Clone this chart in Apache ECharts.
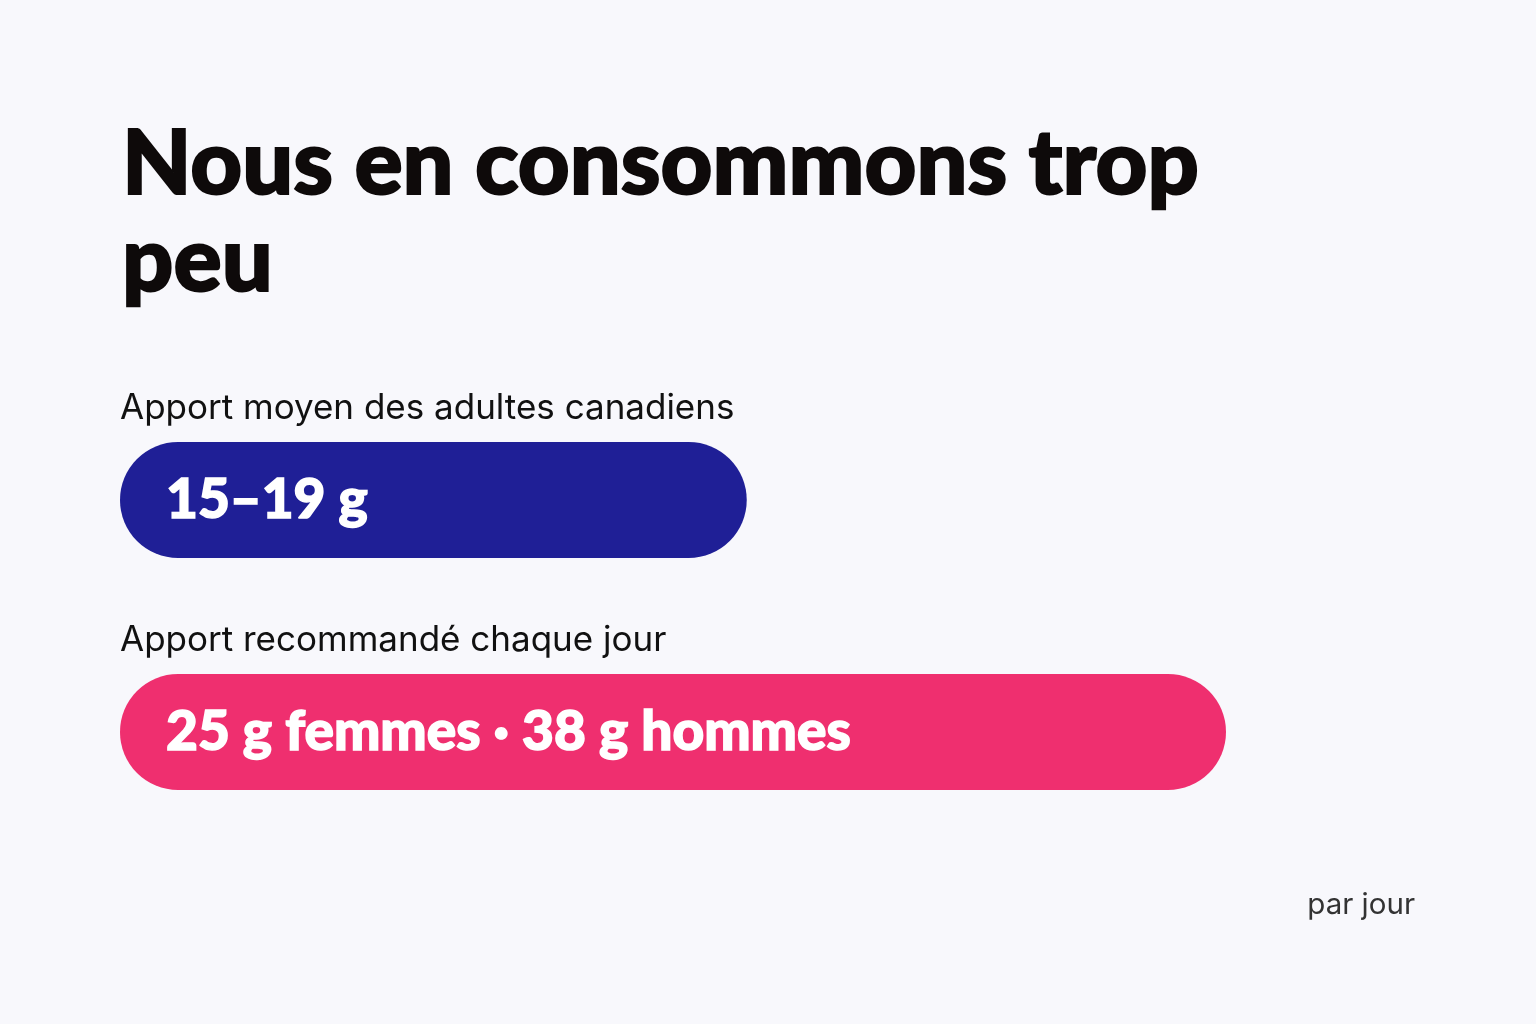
<!DOCTYPE html>
<html>
<head>
<meta charset="utf-8">
<script src="https://cdn.jsdelivr.net/npm/echarts@6/dist/echarts.min.js"></script>
<style>
html,body{margin:0;padding:0;background:#f8f8fc;}
#chart{width:1536px;height:1024px;}
</style>
</head>
<body>
<div id="chart"></div>
<script>
// Data
const titleLines = ['Nous en consommons trop', 'peu'];
const unitNote = 'par jour';
const categories = ['Apport moyen des adultes canadiens', 'Apport recommandé chaque jour'];
const barValues = [17, 30];
const valueLabels = ['15–19 g', '25 g femmes · 38 g hommes'];
const barColors = ['#1f1f96', '#ef2f6f'];
const axisMax = 30;

const chart = echarts.init(document.getElementById('chart'), null, {renderer: 'canvas'});
chart.setOption({
  backgroundColor: '#f8f8fc',
  animation: false,
  title: [{
    text: titleLines.join('\n'),
    left: 117,
    top: 111,
    textStyle: {
      fontFamily: 'Lato',
      fontWeight: 900,
      fontSize: 90,
      lineHeight: 97,
      color: '#0e0a0a',
      textBorderColor: '#0e0a0a',
      textBorderWidth: 2
    }
  }, {
    text: unitNote,
    right: 116,
    top: 885,
    textStyle: {
      fontFamily: 'Inter',
      fontWeight: 400,
      fontSize: 29.5,
      color: '#333333'
    }
  }],
  grid: {left: 120, right: 310, top: 384, bottom: 176, containLabel: false},
  xAxis: {
    type: 'value', min: 0, max: axisMax,
    show: false
  },
  yAxis: {
    type: 'category',
    data: categories,
    inverse: true,
    axisLine: {show: false},
    axisTick: {show: false},
    splitLine: {show: false},
    axisLabel: {show: false}
  },
  series: [{
    type: 'bar',
    data: barValues.map((v, i) => ({value: v, itemStyle: {color: barColors[i]}})),
    barWidth: 116,
    itemStyle: {borderRadius: 58},
    label: {
      show: true,
      position: 'insideLeft',
      distance: 46,
      formatter: p => valueLabels[p.dataIndex],
      fontFamily: 'Lato',
      fontWeight: 900,
      fontSize: 55,
      color: '#ffffff',
      textBorderColor: '#ffffff',
      textBorderWidth: 1.5
    },
    silent: true
  }]
});

// Category captions placed above each bar, positioned from the chart's own scales
const graphics = categories.map((c, i) => {
  const p = chart.convertToPixel({gridIndex: 0}, [0, i]);
  return {
    type: 'text',
    left: p[0],
    top: p[1] - 58 - 51,
    style: {
      text: c,
      font: '400 35px Inter',
      fill: '#111111'
    },
    silent: true
  };
});
chart.setOption({graphic: graphics});
</script>
</body>
</html>
